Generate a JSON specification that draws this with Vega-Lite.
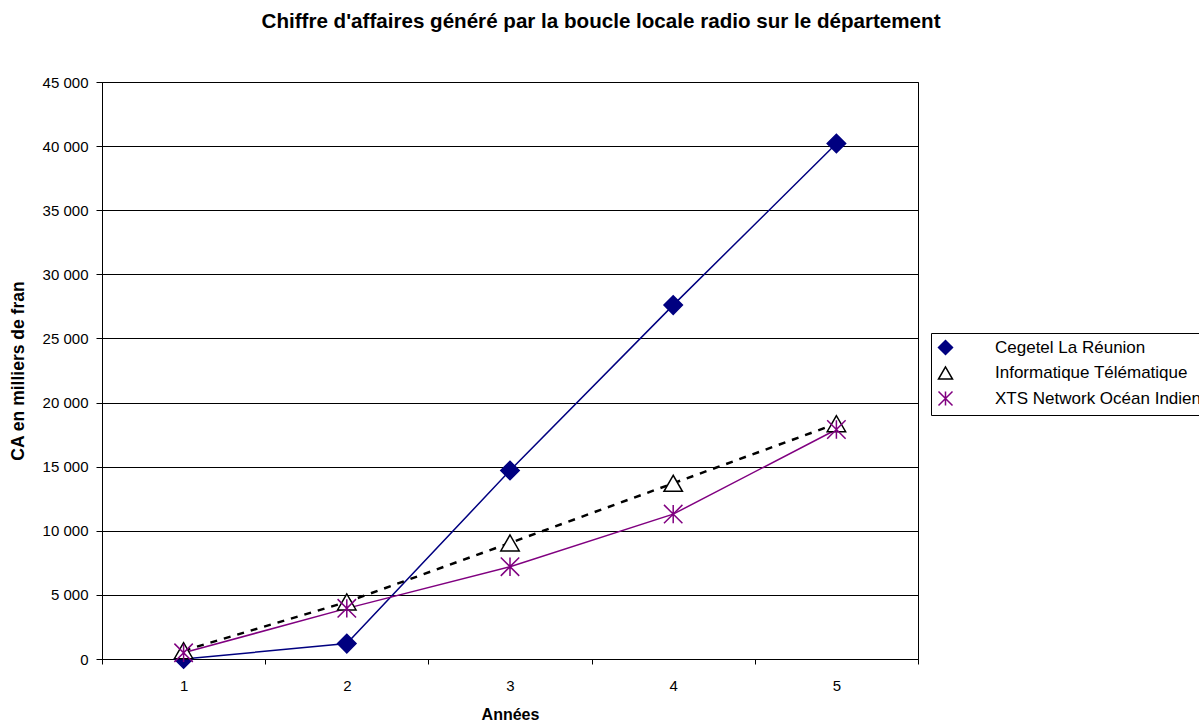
{
  "$schema": "https://vega.github.io/schema/vega-lite/v6.json",
  "width": 816,
  "height": 577,
  "autosize": {"type": "none"},
  "padding": {"left": 102, "top": 82, "right": 281, "bottom": 63},
  "background": "white",
  "title": {
    "text": "Chiffre d'affaires généré par la boucle locale radio sur le département",
    "font": "Liberation Sans",
    "fontSize": 20.6,
    "fontWeight": "bold",
    "color": "black",
    "anchor": "middle",
    "frame": "group",
    "dx": 91,
    "offset": 42
  },
  "config": {
    "view": {"stroke": "black", "strokeWidth": 1},
    "axis": {
      "labelFont": "Liberation Sans",
      "labelColor": "black",
      "titleFont": "Liberation Sans",
      "titleColor": "black",
      "titleFontWeight": "bold",
      "domainColor": "black",
      "tickColor": "black"
    }
  },
  "data": {
    "values": [
      {"annee": 1, "serie": "Cegetel La Réunion", "ca": 0},
      {"annee": 2, "serie": "Cegetel La Réunion", "ca": 1200},
      {"annee": 3, "serie": "Cegetel La Réunion", "ca": 14700},
      {"annee": 4, "serie": "Cegetel La Réunion", "ca": 27600},
      {"annee": 5, "serie": "Cegetel La Réunion", "ca": 40200},
      {"annee": 1, "serie": "Informatique Télématique", "ca": 650},
      {"annee": 2, "serie": "Informatique Télématique", "ca": 4450},
      {"annee": 3, "serie": "Informatique Télématique", "ca": 9050},
      {"annee": 4, "serie": "Informatique Télématique", "ca": 13700},
      {"annee": 5, "serie": "Informatique Télématique", "ca": 18350},
      {"annee": 1, "serie": "XTS Network Océan Indien", "ca": 480},
      {"annee": 2, "serie": "XTS Network Océan Indien", "ca": 3950},
      {"annee": 3, "serie": "XTS Network Océan Indien", "ca": 7200},
      {"annee": 4, "serie": "XTS Network Océan Indien", "ca": 11300},
      {"annee": 5, "serie": "XTS Network Océan Indien", "ca": 17900}
    ]
  },
  "encoding": {
    "x": {
      "field": "annee",
      "type": "ordinal",
      "bandPosition": 0.5,
      "scale": {"type": "band", "paddingInner": 0, "paddingOuter": 0},
      "axis": {
        "title": "Années",
        "titleFontSize": 16,
        "titlePadding": 13,
        "labelFontSize": 15,
        "labelAngle": 0,
        "labelPadding": 14,
        "tickBand": "extent",
        "tickSize": 5,
        "grid": false
      }
    },
    "y": {
      "field": "ca",
      "type": "quantitative",
      "scale": {"domain": [0, 45000], "nice": false},
      "axis": {
        "values": [0, 5000, 10000, 15000, 20000, 25000, 30000, 35000, 40000, 45000],
        "labelExpr": "replace(format(datum.value, ','), ',', ' ')",
        "title": "CA en milliers de fran",
        "titleFontSize": 17.5,
        "titlePadding": 15,
        "labelFontSize": 15,
        "labelPadding": 8,
        "tickSize": 6,
        "grid": true,
        "gridColor": "black",
        "gridOpacity": 1,
        "gridWidth": 1.2
      }
    }
  },
  "layer": [
    {
      "transform": [{"filter": "datum.serie !== 'Informatique Télématique'"}],
      "mark": {"type": "line", "strokeWidth": 1.5},
      "encoding": {
        "stroke": {
          "field": "serie",
          "type": "nominal",
          "scale": {
            "domain": ["Cegetel La Réunion", "Informatique Télématique", "XTS Network Océan Indien"],
            "range": ["#000080", "#000000", "#800080"]
          }
        }
      }
    },
    {
      "transform": [{"filter": "datum.serie === 'Informatique Télématique'"}],
      "mark": {"type": "line", "strokeWidth": 2.5, "strokeDash": [7, 7], "color": "black"},
      "encoding": {}
    },
    {
      "mark": {"type": "point", "filled": true, "strokeWidth": 1.5, "opacity": 1, "size": 340},
      "encoding": {
        "stroke": {
          "field": "serie",
          "type": "nominal",
          "scale": {
            "domain": ["Cegetel La Réunion", "Informatique Télématique", "XTS Network Océan Indien"],
            "range": ["#000080", "#000000", "#800080"]
          }
        },
        "fill": {
          "field": "serie",
          "type": "nominal",
          "scale": {
            "domain": ["Cegetel La Réunion", "Informatique Télématique", "XTS Network Océan Indien"],
            "range": ["#000080", "#ffffff", "transparent"]
          }
        },
        "shape": {
          "field": "serie",
          "type": "nominal",
          "scale": {
            "domain": ["Cegetel La Réunion", "Informatique Télématique", "XTS Network Océan Indien"],
            "range": ["diamond", "triangle-up", "M0,-1L0,1M-1,-1L1,1M-1,1L1,-1"]
          },
          "legend": {
            "title": null,
            "orient": "none",
            "legendX": 829,
            "legendY": 251,
            "strokeColor": "black",
            "padding": 6,
            "symbolSize": 196,
            "labelOffset": 41,
            "rowPadding": 5.5,
            "labelFont": "Liberation Sans",
            "labelFontSize": 17,
            "labelColor": "black",
            "labelLimit": 500
          }
        }
      }
    }
  ]
}
